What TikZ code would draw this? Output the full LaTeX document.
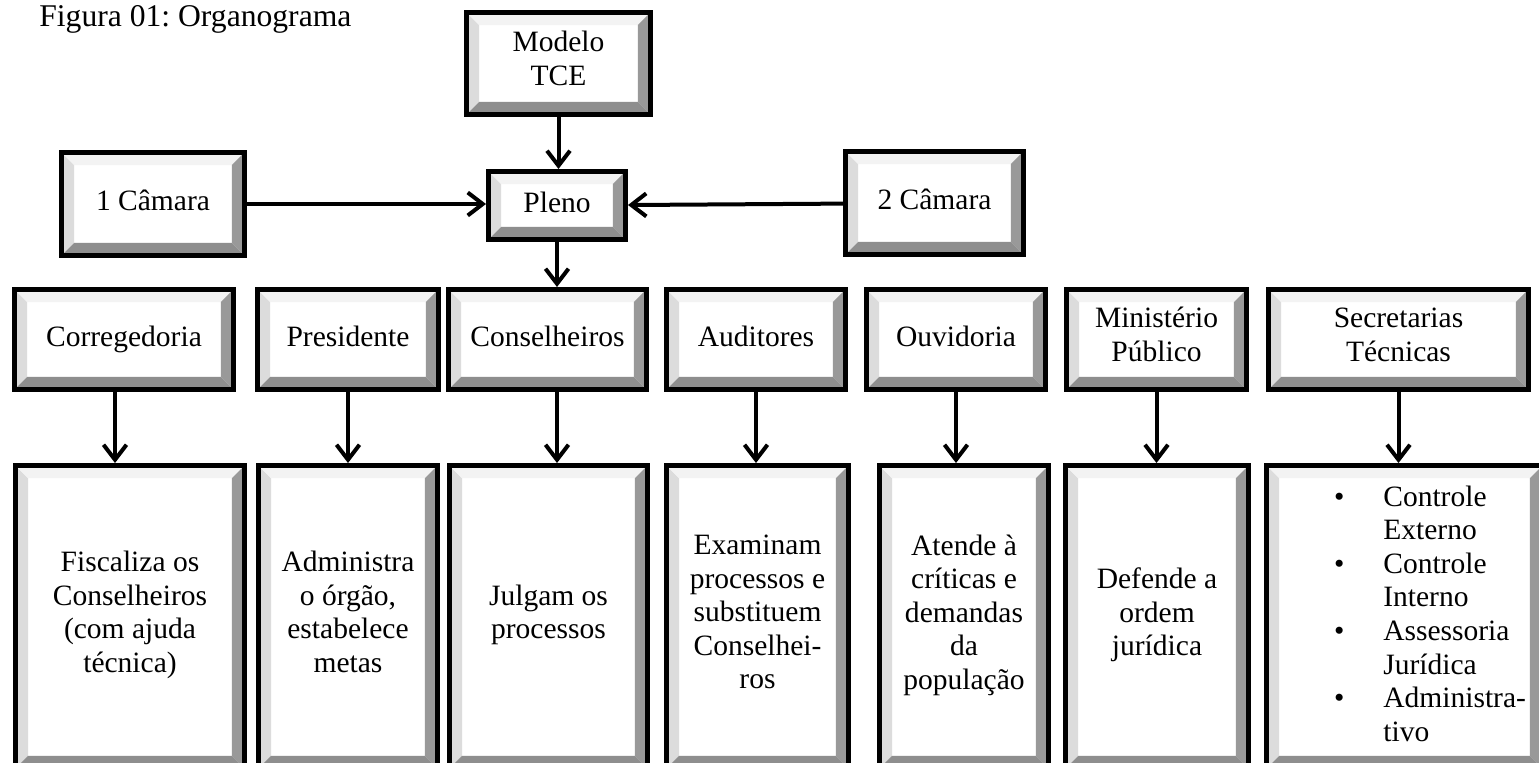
\documentclass[tikz,border=0pt]{standalone}
\usepackage{fontspec}
\setmainfont{Liberation Serif}
\usepackage{xcolor}
\usepackage{tikz}
\usetikzlibrary{arrows.meta,calc}

\definecolor{bevlft}{HTML}{DCDCDC}
\definecolor{bevtop}{HTML}{F3F3F3}
\definecolor{bevrgt}{HTML}{999999}
\definecolor{bevbot}{HTML}{8E8E8E}

\frenchspacing
\newcommand{\boxfont}{\fontsize{16.8}{19.1}\selectfont}
\newcommand{\bw}{0.25cm}
\newcommand{\bevelfill}{%
  \path (path picture bounding box.south west) coordinate (bsw)
        (path picture bounding box.north east) coordinate (bne)
        (path picture bounding box.north west) coordinate (bnw)
        (path picture bounding box.south east) coordinate (bse);
  \fill[bevlft] (bsw) -- (bnw) -- ([shift={(\bw,-\bw)}]bnw) -- ([shift={(\bw,\bw)}]bsw) -- cycle;
  \fill[bevtop] (bnw) -- (bne) -- ([shift={(-\bw,-\bw)}]bne) -- ([shift={(\bw,-\bw)}]bnw) -- cycle;
  \fill[bevrgt] (bne) -- (bse) -- ([shift={(-\bw,\bw)}]bse) -- ([shift={(-\bw,-\bw)}]bne) -- cycle;
  \fill[bevbot] (bse) -- (bsw) -- ([shift={(\bw,\bw)}]bsw) -- ([shift={(-\bw,\bw)}]bse) -- cycle;
}

\begin{document}
\begin{tikzpicture}[
    x=0.02cm, y=-0.02cm,
    orgbox/.style={rectangle, draw=black, line width=0.1cm, fill=white, inner sep=0pt, align=center, font=\boxfont,
        execute at begin node=\strut, execute at end node=\strut, path picture={\bevelfill}},
    toprow/.style={orgbox, minimum height=2cm},
    botrow/.style={orgbox, minimum height=6.06cm},
    arrow/.style={-{Straight Barb[length=0.3cm, width=0.46cm]}, line width=0.08cm}
]
    \clip (0,0) rectangle (1539,763);

    % Caption
    \node[anchor=base west, inner sep=0pt, font=\fontsize{18}{21}\selectfont] (caption) at (39,27) {Figura 01: Organograma};

    % Upper part
    \node[orgbox, minimum width=3.68cm, minimum height=2.04cm] (modelo) at (558.5,63.5) {Modelo\\TCE};
    \node[orgbox, minimum width=2.74cm, minimum height=1.36cm] (pleno) at (557,205.5) {Pleno};
    \node[orgbox, minimum width=3.66cm, minimum height=2.06cm] (cam1) at (153,204) {1 Câmara};
    \node[orgbox, minimum width=3.56cm, minimum height=2.06cm] (cam2) at (934.5,203) {2 Câmara};

    % Organs
    \node[toprow, minimum width=4.38cm] (corr) at (124,339.5) {Corregedoria};
    \node[toprow, minimum width=3.62cm] (pres) at (348,339.5) {Presidente};
    \node[toprow, minimum width=3.96cm] (cons) at (547.5,339.5) {Conselheiros};
    \node[toprow, minimum width=3.58cm] (audi) at (756,339.5) {Auditores};
    \node[toprow, minimum width=3.58cm] (ouvi) at (956,339.5) {Ouvidoria};
    \node[toprow, minimum width=3.60cm] (mini) at (1156.5,339.5) {Ministério\\Público};
    \node[toprow, minimum width=5.20cm] (secr) at (1398.5,339.5) {Secretarias\\Técnicas};

    % Duties
    \node[botrow, minimum width=4.58cm] (fisc) at (130,617) {Fiscaliza os\\Conselheiros\\(com ajuda\\técnica)};
    \node[botrow, minimum width=3.58cm] (admi) at (348,617) {Administra\\o órgão,\\estabelece\\metas};
    \node[botrow, minimum width=3.96cm] (julg) at (548.5,617) {Julgam os\\processos};
    \node[botrow, minimum width=3.64cm] (exam) at (757.5,617) {Examinam\\processos e\\substituem\\Conselhei-\\ros};
    \node[botrow, minimum width=3.38cm] (aten) at (964,617) {Atende à\\críticas e\\demandas\\da\\população};
    \node[botrow, minimum width=3.66cm] (defe) at (1157,617) {Defende a\\ordem\\jurídica};
    \node[botrow, minimum width=5.52cm] (lista) at (1404.5,617) {%
        \begin{tabular}{@{\hspace{1.02cm}}c@{\hspace{0.78cm}}l@{}}
            \textbullet & Controle\\
                        & Externo\\
            \textbullet & Controle\\
                        & Interno\\
            \textbullet & Assessoria\\
                        & Jurídica\\
            \textbullet & Administra-\\
                        & tivo
        \end{tabular}};

    % Arrows
    \draw[arrow] (modelo.south) -- (modelo.south |- pleno.north);
    \draw[arrow] (cam1.east) -- (cam1.east -| pleno.west);
    \draw[arrow] (cam2) -- (pleno);
    \draw[arrow] (pleno.south) -- (pleno.south |- cons.north);
    \draw[arrow] ([xshift=-0.18cm]corr.south) -- ([xshift=-0.18cm]corr.south |- fisc.north);
    \draw[arrow] (cons.south -| pleno.south) -- (julg.north -| pleno.south);
    \foreach \from/\to in {pres/admi, audi/exam, ouvi/aten, mini/defe, secr/lista}
        \draw[arrow] (\from.south) -- (\from.south |- \to.north);
\end{tikzpicture}
\end{document}
